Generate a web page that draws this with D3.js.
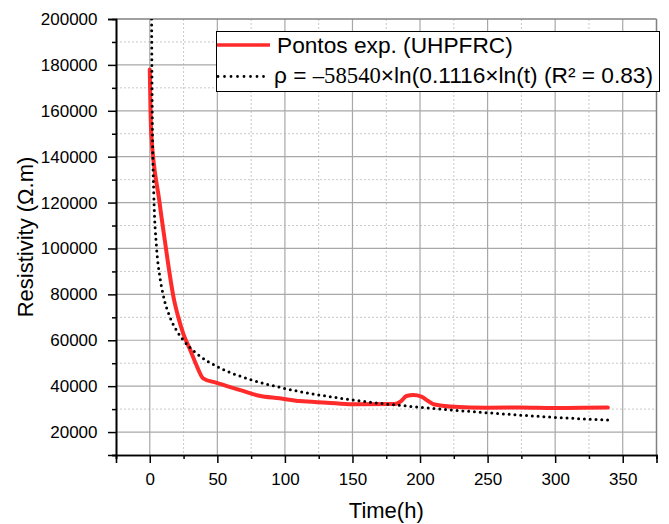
<!DOCTYPE html>
<html>
<head>
<meta charset="utf-8">
<script src="https://cdn.jsdelivr.net/npm/d3@7"></script>
<style>
  html, body { margin: 0; padding: 0; background: #fff; }
  svg { display: block; font-family: "Liberation Sans", Arial, sans-serif; }
</style>
</head>
<body>
<svg id="chart" width="669" height="524"></svg>
<script>
// Experimental points (time in h, resistivity in Ω.m)
const expTime = [0, 1, 7, 11, 18, 21, 24.7, 30, 35, 39.5, 49, 67, 81, 96, 111, 131, 150, 181, 186, 190, 195, 201, 206, 210, 225, 249, 274, 299, 320, 339];
const expRho  = [178000, 151000, 121000, 104000, 77500, 70300, 63000, 55700, 48500, 43400, 41500, 38300, 35800, 34700, 33500, 32800, 32100, 32200, 33500, 35700, 36100, 35400, 33500, 32100, 31000, 30600, 30700, 30500, 30600, 30700];

// Fitted curve
const fitTime = [1.35, 1.6, 2, 3, 5, 7.5, 10, 15, 20, 25, 35, 50, 75, 100, 150, 200, 250, 300, 340];
const fitRho  = [200000, 175000, 150000, 123000, 100500, 87500, 79600, 70000, 64100, 59900, 54100, 48500, 42800, 39000, 34000, 30800, 28400, 26400, 25200];

const xMajorTicks = [0, 50, 100, 150, 200, 250, 300, 350];
const xMinorTicks = [-25, 25, 75, 125, 175, 225, 275, 325, 375];
const yMajorTicks = [20000, 40000, 60000, 80000, 100000, 120000, 140000, 160000, 180000, 200000];
const yMinorTicks = [10000, 30000, 50000, 70000, 90000, 110000, 130000, 150000, 170000, 190000];

const legendLabels = ["Pontos exp. (UHPFRC)"];
const xTitle = "Time(h)";
const yTitle = "Resistivity (Ω.m)";

const svg = d3.select("#chart");
const L = 116, R = 656.5, T = 19, B = 455;
const x = d3.scaleLinear().domain([-25, 375]).range([L, R]);
const y = d3.scaleLinear().domain([10000, 200000]).range([B, T]);

svg.append("defs").append("clipPath").attr("id", "clip")
  .append("rect").attr("x", L).attr("y", T).attr("width", R - L).attr("height", B - T);

// Grid
const grid = svg.append("g");
grid.selectAll(".vminor").data(xMinorTicks.filter(d => d > -25 && d < 375)).join("line")
  .attr("x1", d => x(d)).attr("x2", d => x(d)).attr("y1", T).attr("y2", B)
  .attr("stroke", "#c8c8c8").attr("stroke-width", 1).attr("stroke-dasharray", "2,2");
grid.selectAll(".hminor").data(yMinorTicks.filter(d => d > 10000)).join("line")
  .attr("x1", L).attr("x2", R).attr("y1", d => y(d)).attr("y2", d => y(d))
  .attr("stroke", "#c8c8c8").attr("stroke-width", 1).attr("stroke-dasharray", "2,2");
grid.selectAll(".vmajor").data(xMajorTicks).join("line")
  .attr("x1", d => x(d)).attr("x2", d => x(d)).attr("y1", T).attr("y2", B)
  .attr("stroke", "#a8a8a8").attr("stroke-width", 1.2);
grid.selectAll(".hmajor").data(yMajorTicks.filter(d => d < 200000)).join("line")
  .attr("x1", L).attr("x2", R).attr("y1", d => y(d)).attr("y2", d => y(d))
  .attr("stroke", "#a8a8a8").attr("stroke-width", 1.2);

// Top and right frame
svg.append("line").attr("x1", L).attr("x2", R).attr("y1", T).attr("y2", T).attr("stroke", "#808080").attr("stroke-width", 1.5);
svg.append("line").attr("x1", R).attr("x2", R).attr("y1", T).attr("y2", B).attr("stroke", "#808080").attr("stroke-width", 1.5);

// Data
const plot = svg.append("g").attr("clip-path", "url(#clip)");
const expPts = expTime.map((t, i) => [t, expRho[i]]);
const fitPts = fitTime.map((t, i) => [t, fitRho[i]]);
const line = d3.line().x(d => x(d[0])).y(d => y(d[1])).curve(d3.curveMonotoneX);

plot.append("path").datum(expPts).attr("d", line)
  .attr("fill", "none").attr("stroke", "#ff2b2b").attr("stroke-width", 4)
  .attr("stroke-linejoin", "round").attr("stroke-linecap", "round");
plot.append("path").datum(fitPts).attr("d", line)
  .attr("fill", "none").attr("stroke", "#000").attr("stroke-width", 3)
  .attr("stroke-dasharray", "0,5.8").attr("stroke-linecap", "round");

// Axes
const fontSize = "17px";
svg.append("g").attr("transform", `translate(0,${B})`)
  .call(d3.axisBottom(x).tickValues(xMajorTicks).tickSize(8).tickPadding(10).tickFormat(d3.format("d")));
svg.append("g").attr("transform", `translate(0,${B})`)
  .call(d3.axisBottom(x).tickValues(xMinorTicks).tickSize(4).tickFormat(""));
svg.append("g").attr("transform", `translate(${L},0)`)
  .call(d3.axisLeft(y).tickValues(yMajorTicks).tickSize(8).tickPadding(10.5).tickFormat(d3.format("d")));
svg.append("g").attr("transform", `translate(${L},0)`)
  .call(d3.axisLeft(y).tickValues(yMinorTicks).tickSize(4).tickFormat(""));

svg.selectAll(".domain").attr("stroke", "#000").attr("stroke-width", 1.6);
svg.selectAll(".tick line").attr("stroke", "#000").attr("stroke-width", 1.5);
svg.selectAll(".tick text").attr("font-size", fontSize).attr("fill", "#000")
  .attr("font-family", "Liberation Sans, Arial, sans-serif");

// Titles
svg.append("text").attr("x", (L + R) / 2).attr("y", 517.5).attr("text-anchor", "middle")
  .attr("font-size", "22px").attr("fill", "#000").text(xTitle);
svg.append("text").attr("transform", `translate(32.5,${(T + B) / 2}) rotate(-90)`)
  .attr("text-anchor", "middle").attr("font-size", "22px").attr("fill", "#000").text(yTitle);

// Legend
const lg = svg.append("g");
lg.append("rect").attr("x", 216.5).attr("y", 31.5).attr("width", 443).attr("height", 60)
  .attr("fill", "#fff").attr("stroke", "#000").attr("stroke-width", 1);
lg.append("line").attr("x1", 217).attr("x2", 270).attr("y1", 45).attr("y2", 45)
  .attr("stroke", "#ff2b2b").attr("stroke-width", 3.5);
lg.append("text").attr("x", 277).attr("y", 53).attr("font-size", "22.7px").attr("fill", "#000")
  .text(legendLabels[0]);
lg.append("line").attr("x1", 218).attr("x2", 264).attr("y1", 76.5).attr("y2", 76.5)
  .attr("stroke", "#000").attr("stroke-width", 2.8).attr("stroke-dasharray", "0,6.5").attr("stroke-linecap", "round");
const t2 = lg.append("text").attr("x", 274).attr("y", 83).attr("font-size", "22.7px").attr("fill", "#000");
t2.append("tspan").text("ρ = ");
t2.append("tspan").attr("font-family", "Liberation Serif, Times New Roman, serif").text("–58540");
t2.append("tspan").text("×ln(0.1116×ln(t) (R² = 0.83)");
</script>
</body>
</html>
